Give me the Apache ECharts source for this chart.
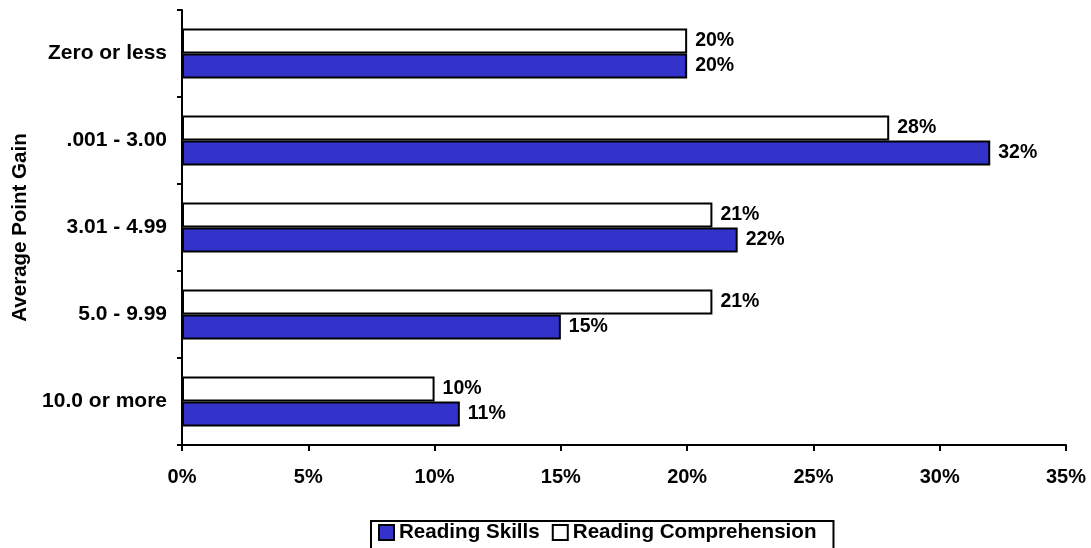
<!DOCTYPE html>
<html>
<head>
<meta charset="utf-8">
<script src="https://cdn.jsdelivr.net/npm/echarts@6/dist/echarts.min.js"></script>
<style>
  html, body { margin: 0; padding: 0; background: #fff; }
  #chart { width: 1091px; height: 548px; }
</style>
</head>
<body>
<div id="chart"></div>
<script>
// Point-gain bands, listed top to bottom
const categories = ['Zero or less', '.001 - 3.00', '3.01 - 4.99', '5.0 - 9.99', '10.0 or more'];
// Share of students in each band (%)
const readingSkills = [20, 32, 22, 15, 11];
const readingComprehension = [20, 28, 21, 21, 10];

const FONT = '"Liberation Sans", Arial, sans-serif';
const chart = echarts.init(document.getElementById('chart'), null, { renderer: 'canvas' });

const labelStyle = {
  show: true,
  position: 'right',
  distance: 8,
  formatter: p => p.value + '%',
  color: '#000',
  fontFamily: FONT,
  fontWeight: 'bold',
  fontSize: 19.5
};

chart.setOption({
  animation: false,
  backgroundColor: '#fff',
  grid: { left: 182, right: 25, top: 10, bottom: 103 },
  legend: {
    data: ['Reading Skills', 'Reading Comprehension'],
    top: 521,
    left: 371,
    borderColor: '#000',
    borderWidth: 2,
    padding: [1, 17, 16, 7],
    itemGap: 12,
    itemWidth: 15,
    itemHeight: 15,
    icon: 'rect',
    textStyle: { color: '#000', fontFamily: FONT, fontWeight: 'bold', fontSize: 20.6 }
  },
  xAxis: {
    type: 'value',
    min: 0,
    max: 35,
    interval: 5,
    splitLine: { show: false },
    axisLine: { show: true, lineStyle: { color: '#000', width: 2 } },
    axisTick: { show: true, length: 6, lineStyle: { color: '#000', width: 2 } },
    axisLabel: {
      formatter: '{value}%',
      margin: 22,
      color: '#000',
      fontFamily: FONT,
      fontWeight: 'bold',
      fontSize: 20
    }
  },
  yAxis: {
    type: 'category',
    data: categories,
    inverse: true,
    name: 'Average Point Gain',
    nameLocation: 'middle',
    nameGap: 151,
    nameRotate: 90,
    nameTextStyle: { color: '#000', fontFamily: FONT, fontWeight: 'bold', fontSize: 20.5 },
    axisLine: { show: true, lineStyle: { color: '#000', width: 2 } },
    axisTick: { show: true, length: 5, lineStyle: { color: '#000', width: 2 } },
    axisLabel: {
      margin: 15,
      color: '#000',
      fontFamily: FONT,
      fontWeight: 'bold',
      fontSize: 21
    }
  },
  series: [
    {
      name: 'Reading Comprehension',
      type: 'bar',
      data: readingComprehension,
      barWidth: 25,
      barGap: '0%',
      itemStyle: { color: '#ffffff', borderColor: '#000', borderWidth: 2 },
      label: labelStyle
    },
    {
      name: 'Reading Skills',
      type: 'bar',
      data: readingSkills,
      barWidth: 25,
      barGap: '0%',
      itemStyle: { color: '#3333cc', borderColor: '#000', borderWidth: 2 },
      label: labelStyle
    }
  ]
});
</script>
</body>
</html>
